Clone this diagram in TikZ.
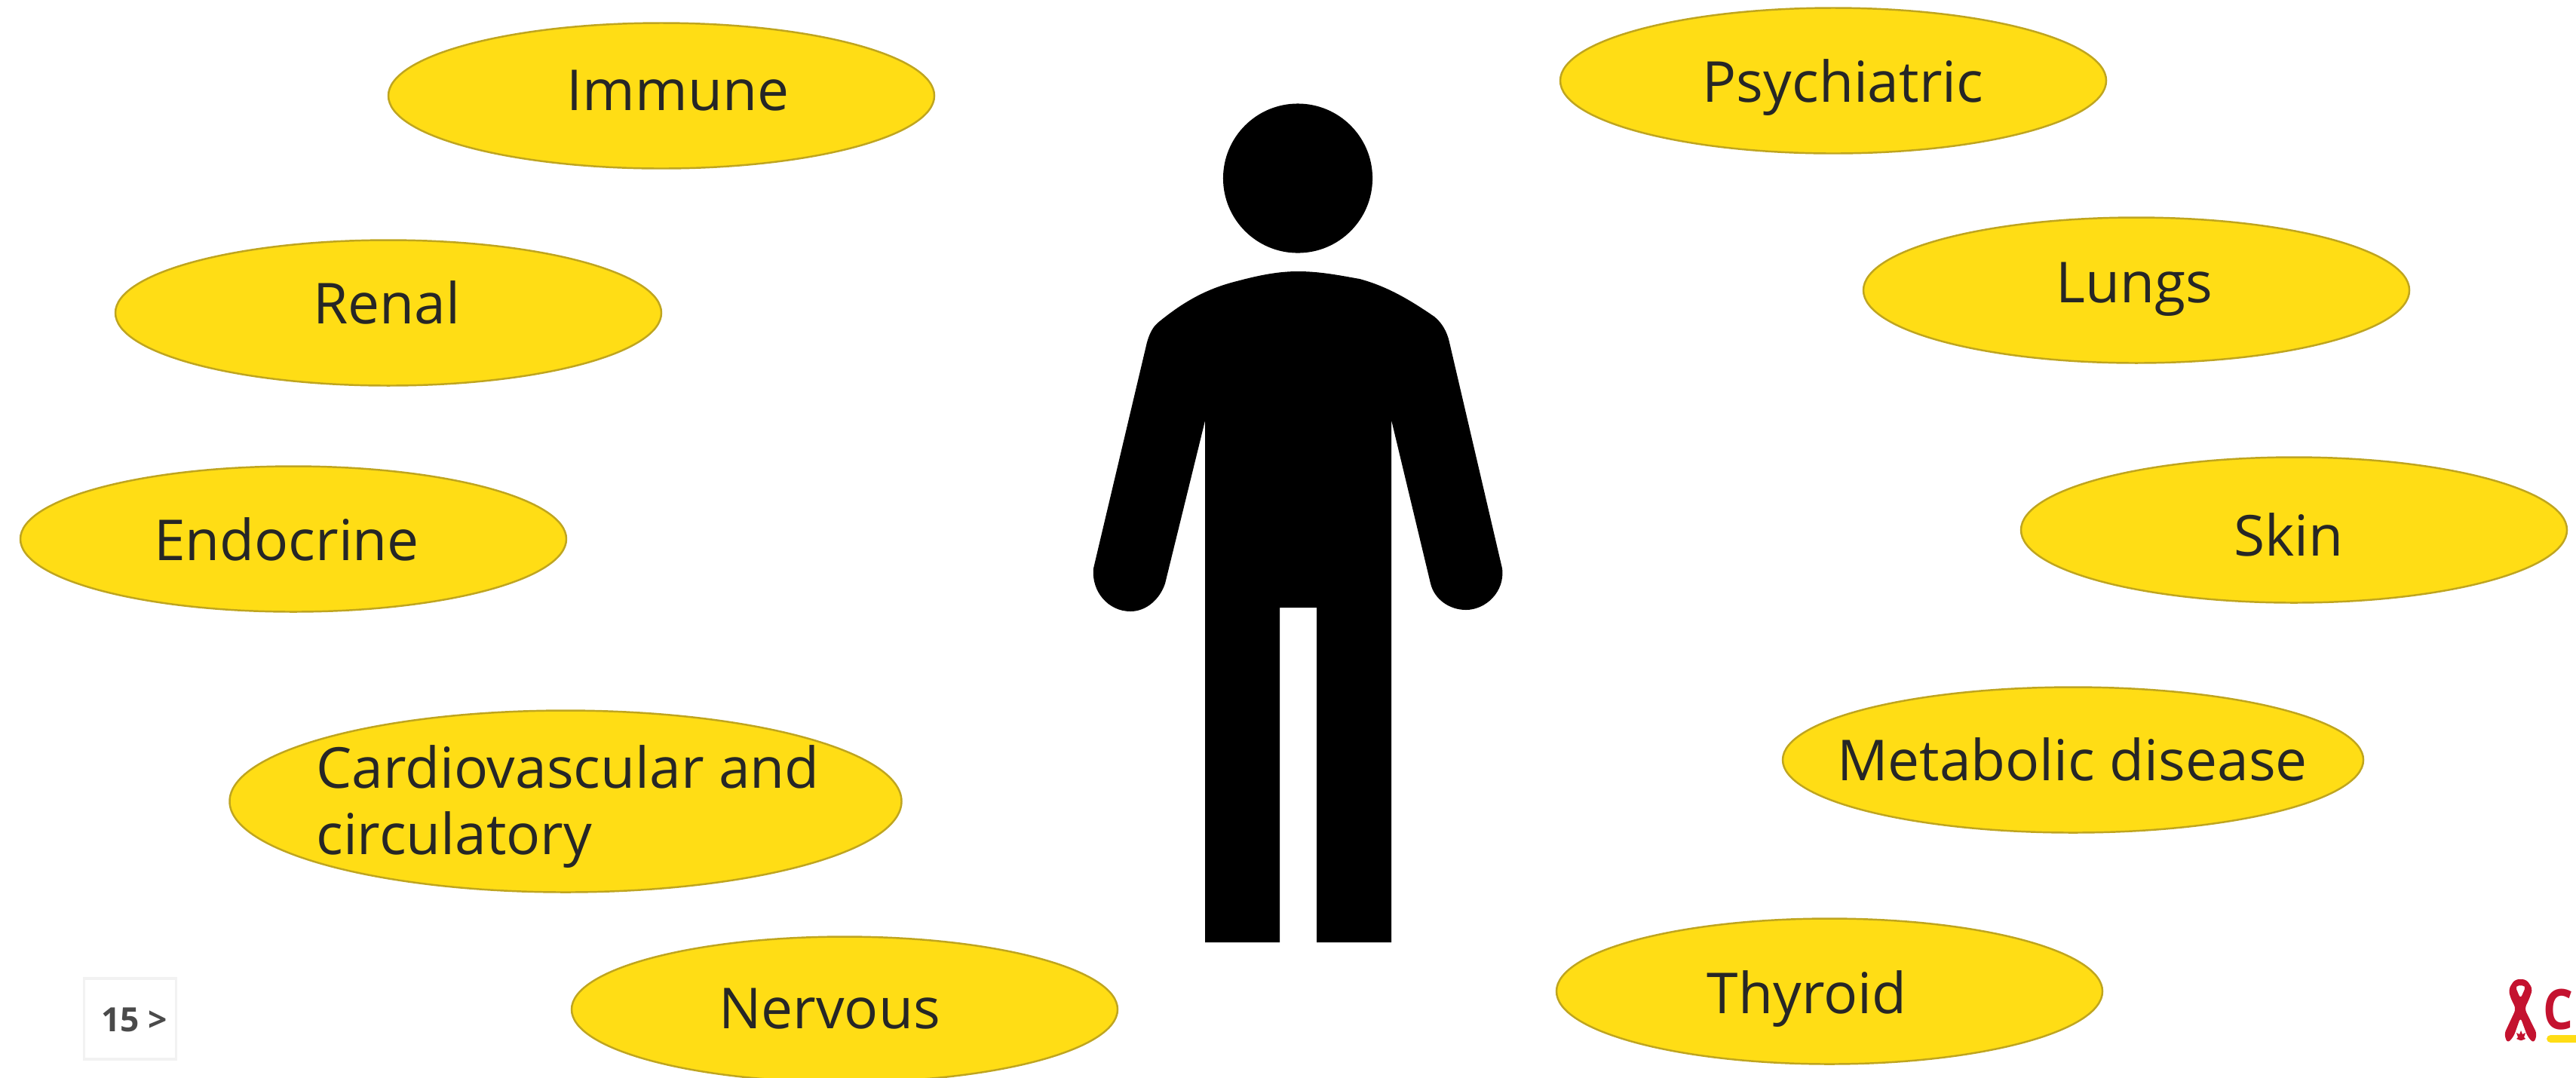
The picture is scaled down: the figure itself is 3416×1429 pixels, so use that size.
\documentclass[tikz,border=0pt]{standalone}
\usepackage{fontspec}
\setmainfont{Open Sans}
\usetikzlibrary{shapes.geometric}
\definecolor{organfill}{HTML}{FFDD15}
\definecolor{organline}{HTML}{BFA51F}
\definecolor{organtext}{HTML}{262626}
\definecolor{ribbonred}{HTML}{C4122F}
\definecolor{pagegrey}{HTML}{4A4A4A}
\tikzset{
  organ/.style={ellipse,fill=organfill,draw=organline,line width=0.7pt,inner sep=0pt,outer sep=0pt},
  organlab/.style={font=\fontsize{21.3}{25}\selectfont,text=organtext,align=left,inner sep=0pt,anchor=base}
}
\begin{document}
\begin{tikzpicture}[x=0.01cm,y=-0.01cm]
\clip (0,0) rectangle (3416,1429);
% ellipses and their labels
\foreach \nm/\ex/\ey/\ew/\eh/\tx/\ty/\lab in {immune/877/127/724/193/899/146/Immune,renal/515/415/724/193/513/429/Renal,endocrine/389/715/724/193/380/743/Endocrine,cardio/750/1063/891/241/753/1133/{Cardiovascular and\\circulatory},nervous/1120/1339/724/193/1100/1364/Nervous,psychiatric/2431/107/724/193/2444/135/Psychiatric,lungs/2833/385/724/193/2830/401/Lungs,skin/3042/703/724/193/3035/737/Skin,metabolic/2749/1008/770/193/2748/1035/Metabolic disease,thyroid/2426/1315/724/193/2396/1344/Thyroid} {
  \node[organ,minimum width=\ew*0.01cm,minimum height=\eh*0.01cm] (\nm) at (\ex,\ey) {};
  \node[organlab] (\nm lab) at (\tx,\ty) {\lab};
}
% person
\node[circle,fill=black,inner sep=0pt,outer sep=0pt,minimum size=1.98cm] (head) at (1721,236.5) {};
\fill[black] (1721,360) .. controls (1750,360) and (1775,365) .. (1803,370)
  .. controls (1840,380) and (1870,398) .. (1902,420)
  .. controls (1912,428) and (1919,440) .. (1922,454) -- (1992,754)
  .. controls (1996,785) and (1970,809) .. (1944,809)
  .. controls (1922,809) and (1902,795) .. (1897,774) -- (1845,557)
  -- (1845,1250) -- (1746,1250) -- (1746,806) -- (1697,806) -- (1697,1250) -- (1598,1250) -- (1598,558)
  -- (1545,774) .. controls (1538,795) and (1520,811) .. (1499,811)
  .. controls (1470,811) and (1447,785) .. (1450,754) -- (1521,454)
  .. controls (1525,440) and (1530,432) .. (1538,426)
  .. controls (1570,400) and (1600,383) .. (1640,373)
  .. controls (1670,365) and (1695,360) .. (1721,360) -- cycle;
% page number
\node[draw=black!5,line width=1.1pt,inner sep=0pt,minimum width=1.22cm,minimum height=1.07cm] (pagebox) at (172.5,1351.5) {};
\node[font=\fontsize{12.6}{14}\selectfont\bfseries,text=pagegrey,inner sep=0pt] (pagenum) at (178,1353) {15 >};
% logo
\fill[ribbonred,even odd rule,rounded corners=1.5pt] (3335,1299) -- (3350,1299) -- (3358.5,1311.7) -- (3354,1325) -- (3347.7,1338)
  -- (3364.3,1371.7) -- (3360,1384) -- (3351.7,1375) -- (3342.3,1349.5) -- (3333.3,1375) -- (3325,1384) -- (3320.7,1371.7)
  -- (3336.3,1338.3) -- (3328.3,1321.7) -- (3326.7,1311.7) -- cycle
  (3335,1307.3) -- (3350,1307.3) -- (3342.3,1325) -- cycle;
\fill[ribbonred] (3343,1367) -- (3345,1372) -- (3349,1370) -- (3347,1376) -- (3349,1378) -- (3344,1380) -- (3342,1380) -- (3337,1378) -- (3339,1376) -- (3337,1370) -- (3341,1372) -- cycle;
\node[font=\fontsize{21}{21}\selectfont\bfseries,text=ribbonred,inner sep=0pt,xscale=0.85] (logoc) at (3392,1339) {C};
\fill[organfill,rounded corners=1.5pt] (3377,1373) rectangle (3430,1383);
\end{tikzpicture}
\end{document}
